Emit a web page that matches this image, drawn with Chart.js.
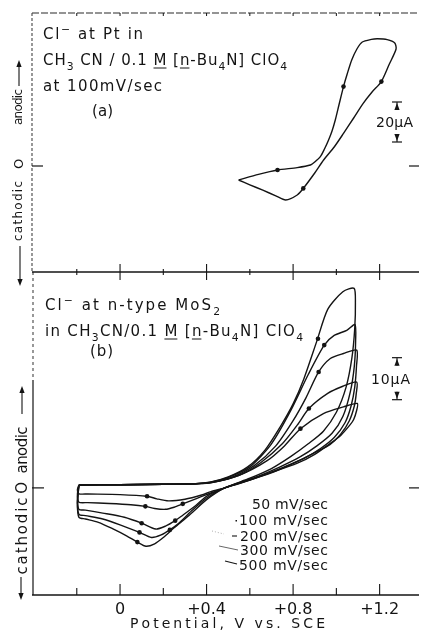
<!DOCTYPE html>
<html>
<head>
<meta charset="utf-8">
<script src="https://cdn.jsdelivr.net/npm/chart.js@4.4.0/dist/chart.umd.min.js"></script>
<style>
html,body{margin:0;padding:0;background:#fff;}
#wrap{position:relative;width:423px;height:631px;background:#fff;}
#wrap canvas{position:absolute;left:0;top:0;}
</style>
</head>
<body>
<div id="wrap">
<canvas id="cBottom" width="423" height="631"></canvas>
<canvas id="cTop" width="423" height="631"></canvas>
</div>
<script>
// ---------------- data (potential in V vs. SCE, current in µA) ----------------
const potentialTicks = [-0.2, 0, 0.2, 0.4, 0.6, 0.8, 1.0, 1.2];
const tickLabels     = ['', '0', '', '+0.4', '', '+0.8', '', '+1.2'];
const xMin = -0.407, xMax = 1.382;

// (a) Cl- at Pt, 100 mV/sec
const ptV = [0.548,0.60,0.66,0.72,0.766,0.819,0.847,0.90,0.941,0.99,1.033,1.08,1.124,1.165,1.208,1.245,1.276,1.27,1.235,1.19,1.162,1.12,1.095,1.071,1.05,1.033,1.013,0.995,0.98,0.964,0.945,0.926,0.90,0.88,0.819,0.728,0.64,0.548];
const ptI = [-7,-9.4,-12.1,-14.9,-17,-14.5,-11.2,-3.5,3,9.5,16.3,24,31.3,37,42.2,51,58.5,61.5,63.2,63.6,63.3,62,58.5,53,46,39.7,31,23,17.5,13,8.5,4.7,2,0.5,-0.8,-2,-4.2,-7];
const ptArrowV = [0.847, 1.208, 1.033, 0.728];
const ptArrowI = [-11.2, 42.2, 39.7, -2];
const ptRange = [-53, 76.5];
const ptScaleBar = [12, 32];          // 20 µA

// (b) Cl- at n-type MoS2, several scan rates
const scanRates = ['50 mV/sec', '100 mV/sec', '200 mV/sec', '300 mV/sec', '500 mV/sec'];
const mos50V  = [-0.19,0,0.2,0.35,0.42,0.55,0.68,0.76,0.834,0.94,1.033,1.097, 1.093,1.08,1.063,1.02,0.972,0.9,0.82,0.667,0.58,0.484, 0.42,0.377,0.3,0.224,0.17,0.125,0,-0.15,-0.19,-0.197,-0.19];
const mos50I  = [0.7,0.75,0.85,1,1.2,3,6.5,10,14.1,17.7,19.3,20.1, 18.3,16.3,15,12.5,10.6,8,5.9,3.1,1.5,0, -0.9,-1.7,-2.7,-3.1,-2.6,-2,-1.6,-1.45,-1.4,-0.4,0.7];
const mos100V = [-0.19,0,0.2,0.35,0.42,0.55,0.65,0.75,0.82,0.873,0.96,1.03,1.094, 1.092,1.083,1.06,1.02,0.97,0.9,0.82,0.72,0.62,0.484, 0.4,0.35,0.29,0.25,0.21,0.16,0.117,0.05,-0.05,-0.15,-0.19,-0.197,-0.19];
const mos100I = [0.7,0.75,0.85,1,1.25,3,6,10.5,15,18.9,22.5,24.2,25.2, 22.5,19.5,16,12.8,10.3,8.4,6.3,4,2.2,0, -1.6,-2.6,-3.8,-4.6,-5.1,-4.9,-4.4,-4,-3.7,-3.5,-3.4,-1.5,0.7];
const mos200V = [-0.19,0,0.2,0.35,0.42,0.52,0.62,0.72,0.8,0.86,0.918,0.972,1.033,1.094, 1.093,1.085,1.068,1.04,0.99,0.93,0.85,0.76,0.65,0.484, 0.4,0.35,0.29,0.255,0.21,0.165,0.1,0.02,-0.08,-0.16,-0.19,-0.197,-0.19];
const mos200I = [0.7,0.75,0.85,1,1.3,2.6,5.3,10,16,21.5,27.6,30.8,32,32.8, 29,24,19.5,15.5,12,9.5,7,5,2.8,0, -2,-4.2,-6.5,-7.8,-9.1,-9.8,-8.4,-7,-6,-5.3,-5.1,-2.5,0.7];
const mos300V = [-0.19,0,0.2,0.35,0.42,0.5,0.6,0.7,0.79,0.87,0.944,0.99,1.048,1.086, 1.089,1.083,1.065,1.03,0.98,0.91,0.83,0.74,0.64,0.484, 0.4,0.33,0.27,0.23,0.19,0.145,0.09,0,-0.08,-0.16,-0.19,-0.197,-0.19];
const mos300I = [0.7,0.75,0.85,1,1.35,2.5,5,10.5,18.5,27,34,36.3,37.5,38.9, 35,29,23,17,13,10,7.3,5,2.8,0, -2.4,-5.5,-8.5,-10,-11.2,-11.8,-10.6,-8.8,-7.4,-6.6,-6.3,-3.5,0.7];
const mos500V = [-0.19,0,0.2,0.35,0.42,0.5,0.59,0.67,0.74,0.8,0.85,0.91,0.96,1.03,1.082, 1.088,1.085,1.072,1.045,1.0,0.94,0.87,0.79,0.7,0.6,0.484, 0.4,0.32,0.25,0.2,0.16,0.12,0.08,0.03,-0.035,-0.1,-0.16,-0.19,-0.197,-0.19];
const mos500I = [0.7,0.75,0.85,1,1.4,2.6,5,9,14.5,20,26,35,42.5,46.7,47.5, 44,38,31,24,18,13.5,10.5,7.5,4.6,2.3,0, -2.8,-6.5,-9.5,-11.8,-13.3,-13.9,-12.9,-11.4,-9.7,-8.2,-7.4,-7,-4,0.7];
const mosArrowV = [0.915,0.944,0.918,0.873,0.834,0.125,0.117,0.10,0.09,0.08,0.29,0.255,0.23];
const mosArrowI = [35.5,34,27.6,18.9,14.1,-2.0,-4.4,-8.4,-10.6,-12.9,-3.8,-7.8,-10];
const mosRange = [-25.5, 51.4];
const mosScaleBar = [21, 31];        // 10 µA

// ---------------- helpers ----------------
const INK = '#141414';
const FAM = '"DejaVu Sans", sans-serif';
const pts = (xs, ys) => xs.map((x, i) => ({x, y: ys[i]}));
const tickLabelFor = v => { const i = potentialTicks.findIndex(t => Math.abs(t - v) < 1e-6); return i >= 0 ? tickLabels[i] : ''; };

function fontFor(s){ return s + 'px ' + FAM; }
function partSize(m, s){ return (m === 'sub' || m === 'sup') ? s * 0.72 : s; }
function toRuns(p){ return typeof p === 'string' ? [[p, 'n']] : p; }
function measureRuns(ctx, runs, size){
  let w = 0, n = 0;
  for (const [t, m] of runs){ ctx.font = fontFor(partSize(m, size)); for (const ch of t){ w += ctx.measureText(ch).width; n++; } }
  return {w, n};
}
function drawRuns(ctx, p, x, y, size, width){
  const runs = toRuns(p);
  const {w, n} = measureRuns(ctx, runs, size);
  const sp = width ? (width - w) / Math.max(1, n - 1) : 0;
  let cx = x;
  ctx.fillStyle = INK; ctx.textAlign = 'left'; ctx.textBaseline = 'alphabetic';
  for (const [t, m] of runs){
    ctx.font = fontFor(partSize(m, size));
    const dy = m === 'sub' ? size * 0.3 : (m === 'sup' ? -size * 0.42 : 0);
    const x0 = cx;
    for (const ch of t){ ctx.fillText(ch, cx, y + dy); cx += ctx.measureText(ch).width + sp; }
    if (m === 'u'){ ctx.lineWidth = 1; ctx.strokeStyle = INK; ctx.beginPath(); ctx.moveTo(x0, y + 3); ctx.lineTo(cx - sp, y + 3); ctx.stroke(); }
  }
}
function drawVert(ctx, text, cx, cy, size, width){
  ctx.save(); ctx.translate(cx, cy); ctx.rotate(-Math.PI / 2);
  const w = width || measureRuns(ctx, toRuns(text), size).w;
  drawRuns(ctx, text, -w / 2, size * 0.36, size, width);
  ctx.restore();
}
function seg(ctx, x1, y1, x2, y2, w, col, dash){
  ctx.save(); ctx.beginPath(); ctx.setLineDash(dash || []); ctx.moveTo(x1, y1); ctx.lineTo(x2, y2);
  ctx.lineWidth = w || 1.2; ctx.strokeStyle = col || INK; ctx.stroke(); ctx.restore();
}
function head(ctx, x, y, dir){ // dir -1 = up, +1 = down
  ctx.beginPath(); ctx.moveTo(x, y); ctx.lineTo(x - 2.6, y - dir * 7); ctx.lineTo(x + 2.6, y - dir * 7); ctx.closePath(); ctx.fillStyle = INK; ctx.fill();
}
function scaleBar(ctx, x, yTop, yBot){
  seg(ctx, x - 5, yTop, x + 5, yTop, 1.2);
  seg(ctx, x, yTop, x, yTop + 8, 1.1); head(ctx, x, yTop + 1, -1);
  seg(ctx, x - 5, yBot, x + 5, yBot, 1.2);
  seg(ctx, x, yBot - 8, x, yBot, 1.1); head(ctx, x, yBot - 1, 1);
}

// ---------------- decorations ----------------
const topDecor = {
  id: 'topDecor',
  afterDraw(chart){
    const {ctx, chartArea: a, scales: {x, y}} = chart;
    const y0 = y.getPixelForValue(0);
    ctx.save();
    seg(ctx, a.left, a.top, a.right, a.top, 1.1, '#2a2a2a', [7, 2]);
    seg(ctx, a.left, a.top, a.left, a.bottom, 1.1, '#444', [3, 2]);
    seg(ctx, a.left, a.bottom, a.right, a.bottom, 1.3);
    potentialTicks.forEach((v, i) => {
      const px = x.getPixelForValue(v);
      const L = tickLabels[i] ? 8 : 3;
      seg(ctx, px, a.bottom - L, px, a.bottom + L, 1.1);
      seg(ctx, px, a.top, px, a.top + 3, 1);
    });
    seg(ctx, a.left, y0, a.left + 11, y0, 1.2);
    seg(ctx, a.right - 10, y0, a.right, y0, 1.2);
    scaleBar(ctx, 397, y.getPixelForValue(ptScaleBar[1]), y.getPixelForValue(ptScaleBar[0]));
    drawRuns(ctx, '20μA', 376, 127, 14, 37);
    drawRuns(ctx, [['Cl','n'],['−','sup'],[' at Pt in','n']], 43, 39, 15, 100);
    drawRuns(ctx, [['CH','n'],['3','sub'],[' CN / 0.1 ','n'],['M','u'],[' [','n'],['n','u'],['-Bu','n'],['4','sub'],['N] ClO','n'],['4','sub']], 43, 65, 15, 244);
    drawRuns(ctx, 'at 100mV/sec', 43, 91, 15, 119);
    drawRuns(ctx, '(a)', 92, 116, 15, 21);
    // rotated axis label
    drawVert(ctx, 'anodic', 18, 107, 12, 36);
    drawVert(ctx, 'O', 18, y0 - 2, 13);
    drawVert(ctx, 'cathodic', 18, 211, 12, 60);
    seg(ctx, 19, 86, 19, 64, 1.1); head(ctx, 19, 60, -1);
    seg(ctx, 20, 246, 20, 280, 1.1); head(ctx, 20, 286, 1);
    ctx.restore();
  }
};

const bottomDecor = {
  id: 'bottomDecor',
  afterDraw(chart){
    const {ctx, chartArea: a, scales: {x, y}} = chart;
    const y0 = y.getPixelForValue(0);
    ctx.save();
    seg(ctx, a.left + 1, a.top, a.left + 1, 380, 1.1, '#444', [3, 3]);
    seg(ctx, a.left + 1, 380, a.left + 1, a.bottom, 1.2);
    seg(ctx, a.left, a.bottom, a.right, a.bottom, 1.3);
    potentialTicks.forEach((v, i) => {
      const px = x.getPixelForValue(v);
      const L = tickLabels[i] ? 11 : 7;
      seg(ctx, px, a.bottom - L, px, a.bottom, 1.1);
    });
    seg(ctx, a.left, y0, a.left + 12, y0, 1.2);
    seg(ctx, a.right - 10, y0, a.right, y0, 1.2);
    scaleBar(ctx, 397, y.getPixelForValue(mosScaleBar[1]), y.getPixelForValue(mosScaleBar[0]));
    drawRuns(ctx, '10μA', 371, 384, 14, 39);
    drawRuns(ctx, [['Cl','n'],['−','sup'],[' at n-type MoS','n'],['2','sub']], 45, 310, 15, 175);
    drawRuns(ctx, [['in CH','n'],['3','sub'],['CN/0.1 ','n'],['M','u'],[' [','n'],['n','u'],['-Bu','n'],['4','sub'],['N] ClO','n'],['4','sub']], 45, 336, 15, 258);
    drawRuns(ctx, '(b)', 90, 356, 15, 23);
    // scan-rate labels (right aligned)
    const base = [509, 525, 541, 555, 570];
    const widths = [76, 89, 88, 88, 89];
    scanRates.forEach((s, i) => drawRuns(ctx, s, 328 - widths[i], base[i], 14, widths[i]));
    ctx.fillStyle = INK; ctx.fillRect(235.5, 520, 1.5, 1.5);
    seg(ctx, 232, 536, 237, 536, 1.1);
    seg(ctx, 212, 531, 224, 534, 0.8, '#999', [1, 2]);
    seg(ctx, 219, 546, 238, 550, 0.9, '#555');
    seg(ctx, 225, 561, 237, 564, 1.1);
    // axis title
    drawRuns(ctx, 'Potential, V vs. SCE', 130, 628, 14, 195);
    // rotated axis label
    drawVert(ctx, 'anodic', 22, 450, 15, 47);
    drawVert(ctx, 'O', 22, y0, 15);
    drawVert(ctx, 'cathodic', 22, 536, 15, 77);
    seg(ctx, 22, 414, 22, 391, 1.1); head(ctx, 22, 386, -1);
    seg(ctx, 21, 577, 21, 594, 1.1); head(ctx, 21, 600, 1);
    ctx.restore();
  }
};

// ---------------- charts ----------------
const lineDs = (label, xs, ys) => ({label, data: pts(xs, ys), showLine: true, borderColor: INK, borderWidth: 1.4, pointRadius: 0, tension: 0.25, fill: false});
const dotDs = (label, xs, ys) => ({label, data: pts(xs, ys), showLine: false, pointRadius: 2.3, pointBackgroundColor: INK, pointBorderWidth: 0});

new Chart(document.getElementById('cTop'), {
  type: 'scatter',
  data: {datasets: [lineDs('Cl⁻ at Pt, 100 mV/sec', ptV, ptI), dotDs('scan direction', ptArrowV, ptArrowI)]},
  options: {
    responsive: false, animation: false, events: [],
    layout: {padding: {left: 32, right: 0, top: 13, bottom: 359}},
    plugins: {legend: {display: false}, tooltip: {enabled: false}},
    scales: {
      x: {type: 'linear', min: xMin, max: xMax, display: false},
      y: {type: 'linear', min: ptRange[0], max: ptRange[1], display: false}
    }
  },
  plugins: [topDecor]
});

new Chart(document.getElementById('cBottom'), {
  type: 'scatter',
  data: {datasets: [
    lineDs(scanRates[0], mos50V, mos50I),
    lineDs(scanRates[1], mos100V, mos100I),
    lineDs(scanRates[2], mos200V, mos200I),
    lineDs(scanRates[3], mos300V, mos300I),
    lineDs(scanRates[4], mos500V, mos500I),
    dotDs('scan direction', mosArrowV, mosArrowI)
  ]},
  options: {
    responsive: false, animation: false, events: [],
    layout: {padding: {left: 32, right: 0, top: 272, bottom: 0}},
    plugins: {legend: {display: false}, tooltip: {enabled: false}},
    scales: {
      x: {
        type: 'linear', min: xMin, max: xMax, position: 'bottom',
        grid: {display: false, drawTicks: false}, border: {display: false},
        afterBuildTicks: s => { s.ticks = potentialTicks.map(v => ({value: v})); },
        afterFit: s => { s.height = 36; },
        ticks: {autoSkip: false, maxRotation: 0, padding: 5, color: INK, font: {family: FAM, size: 16}, callback: v => tickLabelFor(v)}
      },
      y: {type: 'linear', min: mosRange[0], max: mosRange[1], display: false}
    }
  },
  plugins: [bottomDecor]
});
</script>
</body>
</html>
